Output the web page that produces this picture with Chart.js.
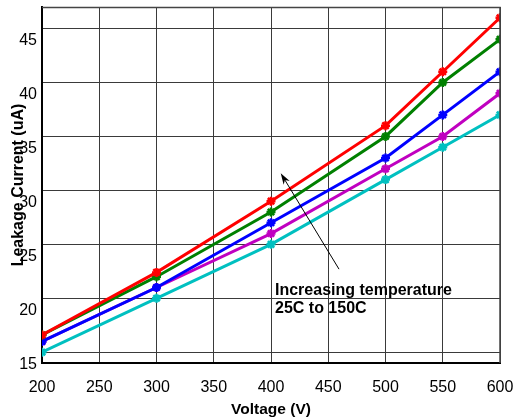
<!DOCTYPE html>
<html>
<head>
<meta charset="utf-8">
<script src="https://cdn.jsdelivr.net/npm/chart.js@4.4.1/dist/chart.umd.min.js"></script>
<style>
  html, body { margin: 0; padding: 0; background: #fff; }
  #wrap { width: 522px; height: 420px; }
</style>
</head>
<body>
<div id="wrap"><canvas id="chart"></canvas></div>
<script>
// Voltage (V) on the x axis, leakage current (uA) per curve, hottest first
const voltages = [200, 300, 400, 500, 550, 600];
const redCurve = [16.6, 22.4, 29.0, 36.0, 41.0, 46.0];
const greenCurve = [16.6, 22.0, 28.0, 35.0, 40.0, 44.0];
const blueCurve = [16.0, 21.0, 27.0, 33.0, 37.0, 41.0];
const magentaCurve = [16.0, 21.0, 26.0, 32.0, 35.0, 39.0];
const cyanCurve = [15.0, 20.0, 25.0, 31.0, 34.0, 37.0];

const yTicks = [15, 20, 25, 30, 35, 40, 45];

const noteLines = ['Increasing temperature', '25C to 150C'];
// arrow tail / head and note anchor, in data units
const arrowFrom = { x: 459.4, y: 22.7 };
const arrowTo = { x: 408.5, y: 31.6 };
const noteAt = { x: 403.5, y: 20.34 };

const toPoints = vals => vals.map((v, i) => ({ x: voltages[i], y: v }));

const series = [
  { data: redCurve, color: '#ff0000' },
  { data: greenCurve, color: '#008000' },
  { data: blueCurve, color: '#0000ff' },
  { data: magentaCurve, color: '#c000c0' },
  { data: cyanCurve, color: '#00c0c0' }
];

// top and right edges of the frame, plus the arrow and note
const extras = {
  id: 'extras',
  afterDatasetsDraw(chart) {
    const { ctx, chartArea: a, scales: { x, y } } = chart;
    ctx.save();
    ctx.strokeStyle = '#444';
    ctx.lineWidth = 1.5;
    ctx.beginPath();
    ctx.moveTo(a.left, a.top + 0.5);
    ctx.lineTo(a.right, a.top + 0.5);
    ctx.lineTo(a.right, a.bottom);
    ctx.stroke();

    const x1 = x.getPixelForValue(arrowFrom.x), y1 = y.getPixelForValue(arrowFrom.y);
    const x2 = x.getPixelForValue(arrowTo.x), y2 = y.getPixelForValue(arrowTo.y);
    const ang = Math.atan2(y2 - y1, x2 - x1);
    ctx.strokeStyle = '#000';
    ctx.fillStyle = '#000';
    ctx.lineWidth = 1;
    ctx.beginPath();
    ctx.moveTo(x1, y1);
    ctx.lineTo(x2 - 8 * Math.cos(ang), y2 - 8 * Math.sin(ang));
    ctx.stroke();
    ctx.beginPath();
    ctx.moveTo(x2, y2);
    ctx.lineTo(x2 - 12 * Math.cos(ang - 0.3), y2 - 12 * Math.sin(ang - 0.3));
    ctx.lineTo(x2 - 8 * Math.cos(ang), y2 - 8 * Math.sin(ang));
    ctx.lineTo(x2 - 12 * Math.cos(ang + 0.3), y2 - 12 * Math.sin(ang + 0.3));
    ctx.closePath();
    ctx.fill();

    ctx.font = 'bold 16px "Liberation Sans", Arial, sans-serif';
    ctx.textBaseline = 'alphabetic';
    ctx.textAlign = 'left';
    const tx = x.getPixelForValue(noteAt.x), ty = y.getPixelForValue(noteAt.y);
    noteLines.forEach((line, i) => ctx.fillText(line, tx, ty + i * 18.5));
    ctx.restore();
  }
};

new Chart(document.getElementById('chart'), {
  type: 'line',
  data: {
    datasets: series.map(s => ({
      data: toPoints(s.data),
      borderColor: s.color,
      backgroundColor: s.color,
      borderWidth: 3,
      pointStyle: 'star',
      pointRadius: 4.5,
      pointBorderWidth: 2.5,
      pointBorderColor: s.color,
      fill: false,
      tension: 0
    }))
  },
  options: {
    responsive: true,
    maintainAspectRatio: false,
    animation: false,
    layout: { padding: { top: 2, right: 22, left: 0, bottom: 0 } },
    plugins: {
      legend: { display: false },
      tooltip: { enabled: false }
    },
    scales: {
      x: {
        type: 'linear',
        min: 200,
        max: 600,
        afterFit: axis => {
          axis.height = 57;
          axis.paddingLeft = 0;
          axis.paddingRight = 0;
        },
        ticks: {
          stepSize: 50,
          padding: 15,
          color: '#000',
          font: { family: '"Liberation Sans", Arial, sans-serif', size: 16 }
        },
        grid: { color: '#3a3a3a', lineWidth: 1, drawTicks: false },
        border: { color: '#000', width: 2 },
        title: {
          display: true,
          text: 'Voltage (V)',
          color: '#000',
          padding: { top: 0, bottom: 1 },
          font: { family: '"Liberation Sans", Arial, sans-serif', size: 15.5, weight: 'bold' }
        }
      },
      y: {
        min: 14,
        max: 47,
        afterFit: axis => {
          axis.width = 42;
          axis.paddingTop = 0;
          axis.paddingBottom = 0;
        },
        afterBuildTicks: axis => { axis.ticks = yTicks.map(v => ({ value: v })); },
        ticks: {
          padding: 5,
          labelOffset: 12.5,
          color: '#000',
          font: { family: '"Liberation Sans", Arial, sans-serif', size: 16 }
        },
        grid: { color: '#3a3a3a', lineWidth: 1, drawTicks: false },
        border: { color: '#000', width: 2 },
        title: {
          display: true,
          text: 'Leakage Current (uA)',
          color: '#000',
          padding: { top: 9, bottom: 0 },
          font: { family: '"Liberation Sans", Arial, sans-serif', size: 16, weight: 'bold' }
        }
      }
    }
  },
  plugins: [extras]
});
</script>
</body>
</html>
